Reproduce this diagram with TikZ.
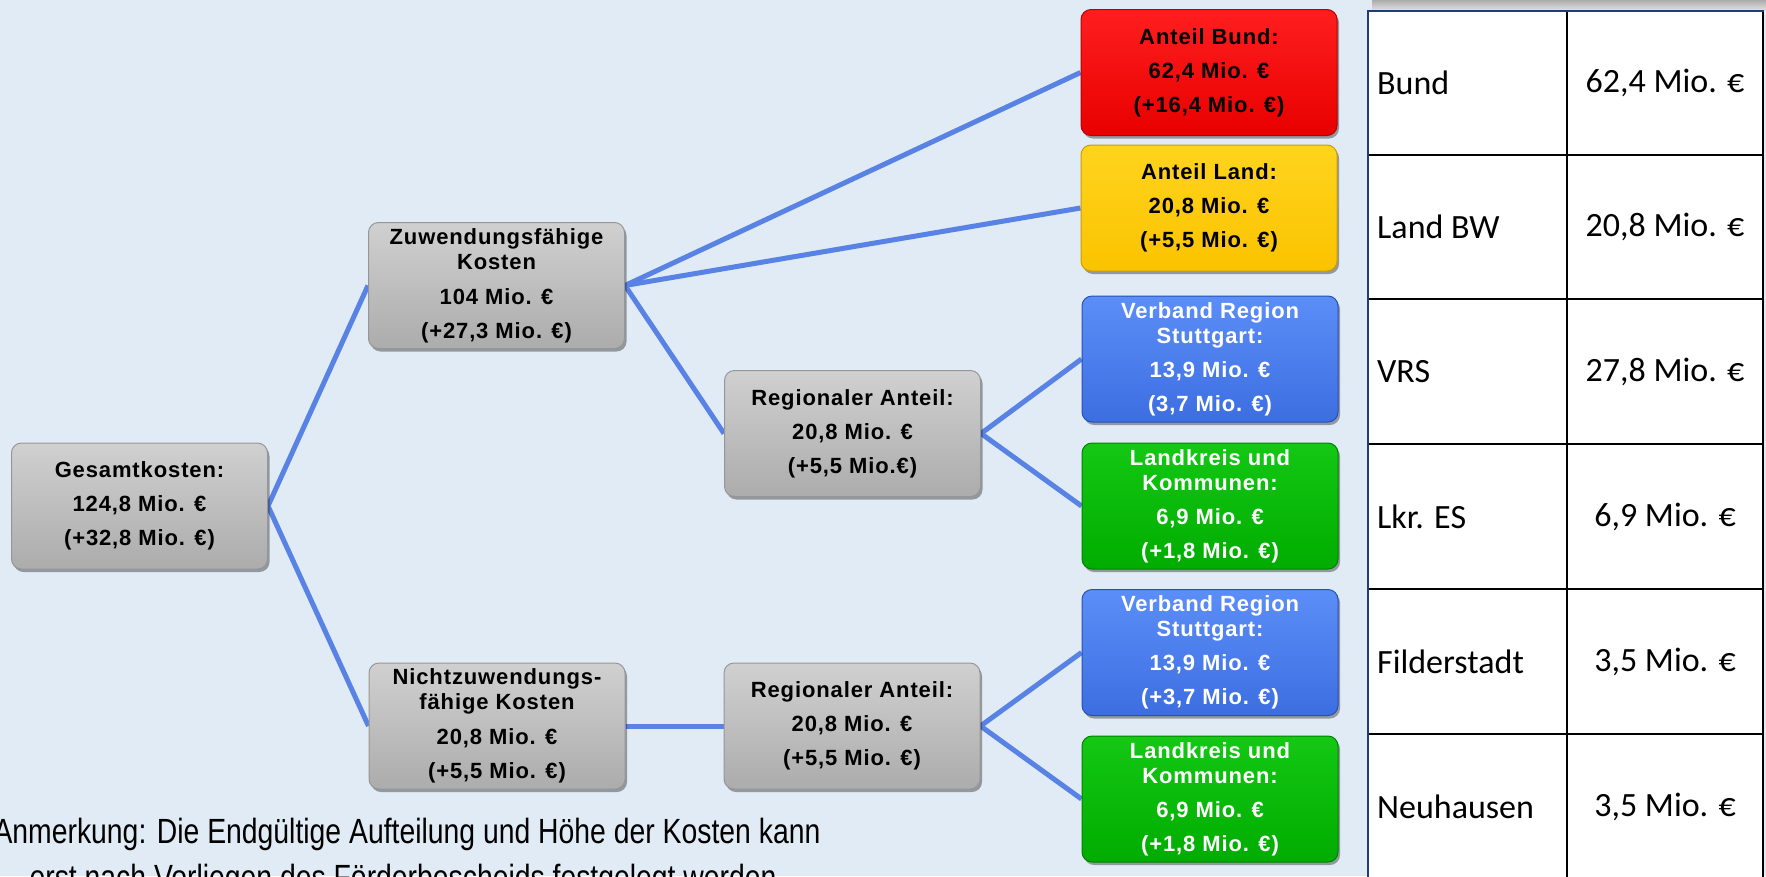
\documentclass[tikz,border=0pt]{standalone}
\usepackage{fontspec}
\setmainfont{Liberation Sans}
\newfontfamily\boxfont[LetterSpace=4]{Liberation Sans}
\newfontfamily\notefont[FakeStretch=0.81]{Liberation Sans}
\newfontfamily\tabfont{Carlito}
\usetikzlibrary{shadows}
\definecolor{bgcol}{RGB}{225,235,245}
\definecolor{conncol}{RGB}{88,130,228}
\definecolor{navyline}{RGB}{31,61,122}
\definecolor{graytop}{RGB}{208,208,208}
\definecolor{graybot}{RGB}{172,172,172}
\definecolor{grayedge}{RGB}{150,150,150}
\definecolor{redtop}{RGB}{255,30,30}
\definecolor{redbot}{RGB}{232,0,0}
\definecolor{rededge}{RGB}{185,0,0}
\definecolor{yeltop}{RGB}{255,212,30}
\definecolor{yelbot}{RGB}{250,195,0}
\definecolor{yeledge}{RGB}{205,155,0}
\definecolor{bluetop}{RGB}{92,142,248}
\definecolor{bluebot}{RGB}{60,110,225}
\definecolor{blueedge}{RGB}{40,80,180}
\definecolor{greentop}{RGB}{20,200,20}
\definecolor{greenbot}{RGB}{0,172,0}
\definecolor{greenedge}{RGB}{0,130,0}
\pgfdeclarelayer{bg}
\pgfdeclarelayer{lines}
\pgfsetlayers{bg,lines,main}
\tikzset{
  box/.style={rounded corners=10pt, minimum width=256pt, minimum height=126pt,
    align=center, inner sep=2pt, line width=1pt,
    font=\boxfont\bfseries\fontsize{22}{25}\selectfont,
    drop shadow={shadow xshift=2pt, shadow yshift=-3pt, opacity=0.35, fill=black}},
  graybox/.style={box, draw=grayedge, top color=graytop, bottom color=graybot, text=black},
  redbox/.style={box, draw=rededge, top color=redtop, bottom color=redbot, text=black},
  yelbox/.style={box, draw=yeledge, top color=yeltop, bottom color=yelbot, text=black},
  bluebox/.style={box, draw=blueedge, top color=bluetop, bottom color=bluebot, text=white},
  greenbox/.style={box, draw=greenedge, top color=greentop, bottom color=greenbot, text=white},
  conn/.style={draw=conncol, line width=5pt},
  tabl/.style={anchor=west, inner sep=0pt, font=\tabfont\fontsize{34}{40}\selectfont},
  tabr/.style={anchor=center, inner sep=0pt, font=\tabfont\fontsize{34}{40}\selectfont},
  tabline/.style={draw=black, line width=2pt},
  notetext/.style={anchor=base, inner sep=0pt, font=\notefont\fontsize{35}{46}\selectfont}
}
\begin{document}
\begin{tikzpicture}[x=1pt,y=-1pt]
\begin{pgfonlayer}{bg}
\fill[bgcol] (0,0) rectangle (1766,876);
\end{pgfonlayer}
\useasboundingbox (0,0) rectangle (1766,876);

% shadow strip above the table
\shade[top color=gray!65, bottom color=gray!25] (1372,0) rectangle (1766,10);

% table
\fill[white] (1368,11) rectangle (1763,880);
\draw[tabline] (1567,11) -- (1567,880);
\draw[tabline] (1763,11) -- (1763,880);
\foreach \yy in {155,299,444,589,734} {
  \draw[tabline] (1368,\yy) -- (1763,\yy);
}
\draw[draw=navyline, line width=2.5pt] (1368,880) -- (1368,11) -- (1764,11);

\node[tabl] (t1l) at (1377,83) {Bund};
\node[tabr] (t1r) at (1665,83) {62,4 Mio. €};
\node[tabl] (t2l) at (1377,227) {Land BW};
\node[tabr] (t2r) at (1665,227) {20,8 Mio. €};
\node[tabl] (t3l) at (1377,372) {VRS};
\node[tabr] (t3r) at (1665,372) {27,8 Mio. €};
\node[tabl] (t4l) at (1377,517) {Lkr. ES};
\node[tabr] (t4r) at (1665,517) {6,9 Mio. €};
\node[tabl] (t5l) at (1377,662) {Filderstadt};
\node[tabr] (t5r) at (1665,662) {3,5 Mio. €};
\node[tabl] (t6l) at (1377,807) {Neuhausen};
\node[tabr] (t6r) at (1665,807) {3,5 Mio. €};

% boxes
\node[graybox] (ges) at (139.5,506) {Gesamtkosten:\\[9pt]124,8 Mio. €\\[9pt](+32,8 Mio. €)};
\node[graybox] (zuw) at (496.5,285.5) {Zuwendungsfähige\\Kosten\\[10pt]104 Mio. €\\[9pt](+27,3 Mio. €)};
\node[graybox] (reg1) at (852.5,433.5) {Regionaler Anteil:\\[9pt]20,8 Mio. €\\[9pt](+5,5 Mio.€)};
\node[graybox] (nicht) at (497,726) {Nichtzuwendungs-\\fähige Kosten\\[10pt]20,8 Mio. €\\[9pt](+5,5 Mio. €)};
\node[graybox] (reg2) at (852,726) {Regionaler Anteil:\\[9pt]20,8 Mio. €\\[9pt](+5,5 Mio. €)};
\node[redbox] (bund) at (1209,72.5) {Anteil Bund:\\[9pt]62,4 Mio. €\\[9pt](+16,4 Mio. €)};
\node[yelbox] (land) at (1209,208) {Anteil Land:\\[9pt]20,8 Mio. €\\[9pt](+5,5 Mio. €)};
\node[bluebox] (vrs1) at (1210,359) {Verband Region\\Stuttgart:\\[9pt]13,9 Mio. €\\[9pt](3,7 Mio. €)};
\node[greenbox] (lk1) at (1210,506) {Landkreis und\\Kommunen:\\[9pt]6,9 Mio. €\\[9pt](+1,8 Mio. €)};
\node[bluebox] (vrs2) at (1210,652.5) {Verband Region\\Stuttgart:\\[9pt]13,9 Mio. €\\[9pt](+3,7 Mio. €)};
\node[greenbox] (lk2) at (1210,799) {Landkreis und\\Kommunen:\\[9pt]6,9 Mio. €\\[9pt](+1,8 Mio. €)};

% connectors
\begin{pgfonlayer}{lines}
\draw[conn] (ges.east) -- (zuw.west);
\draw[conn] (ges.east) -- (nicht.west);
\draw[conn] (zuw.east) -- (bund.west);
\draw[conn] (zuw.east) -- (land.west);
\draw[conn] (zuw.east) -- (reg1.west);
\draw[conn] (reg1.east) -- (vrs1.west);
\draw[conn] (reg1.east) -- (lk1.west);
\draw[conn] (nicht.east) -- (reg2.west);
\draw[conn] (reg2.east) -- (vrs2.west);
\draw[conn] (reg2.east) -- (lk2.west);
\end{pgfonlayer}

% note
\node[notetext] (note1) at (407,843) {Anmerkung: Die Endgültige Aufteilung und Höhe der Kosten kann};
\node[notetext] (note2) at (407,889) {erst nach Vorliegen des Förderbescheids festgelegt werden.};
\end{tikzpicture}
\end{document}
